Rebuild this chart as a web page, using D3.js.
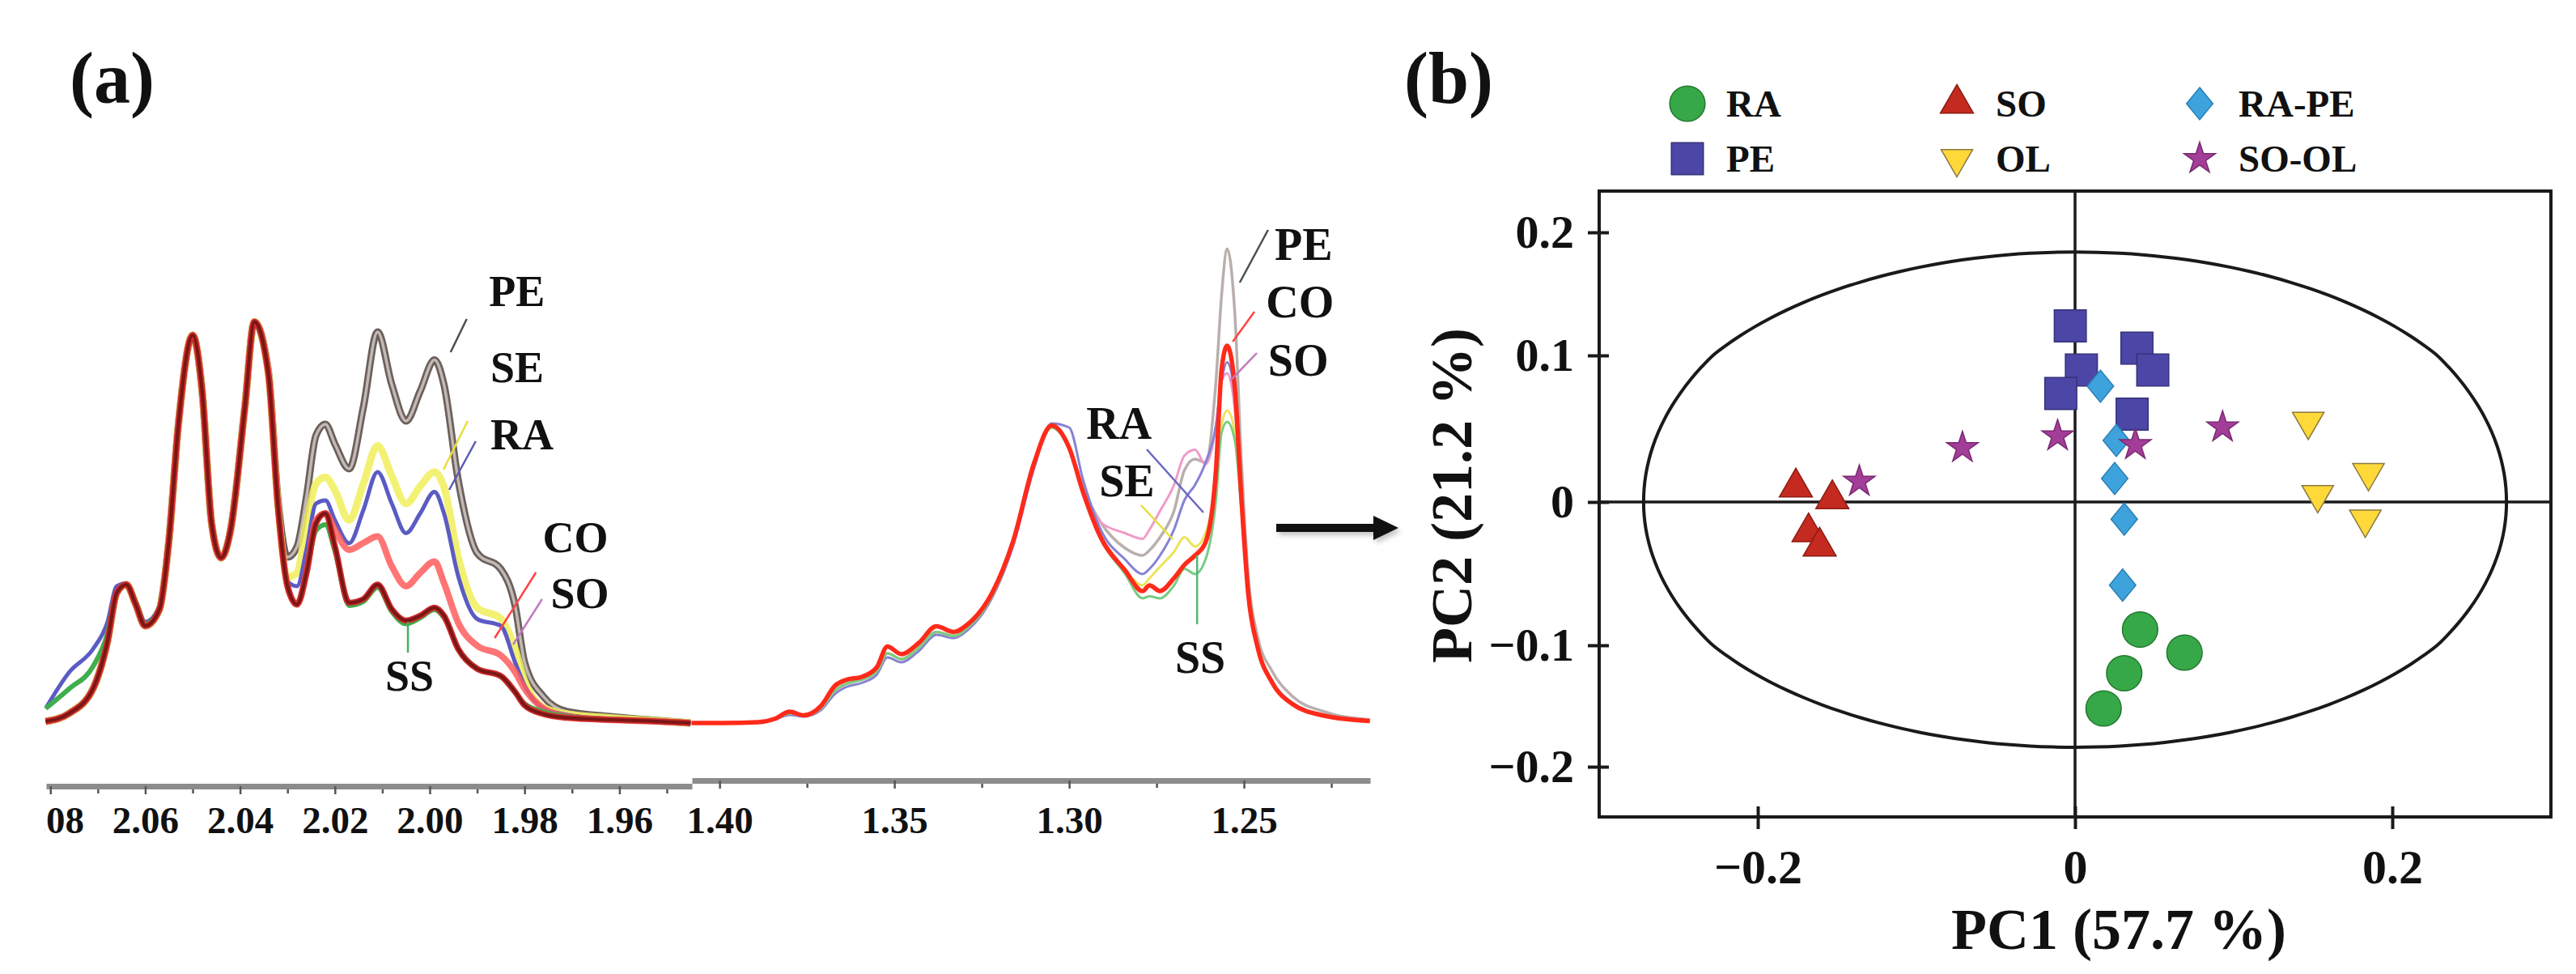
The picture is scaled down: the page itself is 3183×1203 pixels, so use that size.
<!DOCTYPE html>
<html>
<head>
<meta charset="utf-8">
<title>NMR spectra and PCA scores</title>
<script src="https://cdn.jsdelivr.net/npm/d3@7"></script>
<style>
  body { margin: 0; background: #ffffff; }
  svg { display: block; background: #ffffff; }
  text { font-family: 'Liberation Serif', 'Times New Roman', serif; font-weight: bold; fill: #111111; }
</style>
</head>
<body>
<svg></svg>
<script>
// (a) 1H NMR, window 2.08 - 1.95 ppm (relative intensity)
let ppmLeft = [2.081, 2.076, 2.071, 2.068, 2.066, 2.064, 2.062, 2.060, 2.057, 2.055, 2.053, 2.050, 2.048, 2.046, 2.044,
  2.042, 2.039, 2.037, 2.034, 2.032, 2.030, 2.028, 2.026, 2.024, 2.022, 2.020, 2.017, 2.014, 2.011, 2.008, 2.005,
  2.002, 1.999, 1.997, 1.994, 1.990, 1.985, 1.982, 1.980, 1.976, 1.971, 1.962, 1.954, 1.945]
let peLeft = [0.4, 2.4, 8.5, 19.9, 32.2, 34.2, 29.3, 24.0, 28.1, 45.2, 73.8, 95.8, 82.0, 49.3, 40.8, 47.7, 77.9, 99.1,
  86.5, 55.0, 41.0, 43.5, 55.8, 71.0, 73.8, 68.9, 62.8, 78.0, 96.6, 83.6, 74.6, 82.0, 89.7, 83.6, 60.0, 42.0, 38.0,
  29.0, 15.0, 6.5, 2.8, 1.6, 0.8, 0]
let seLeft = [0.4, 2.4, 8.5, 19.9, 32.2, 34.2, 29.3, 24.0, 28.1, 45.2, 73.8, 95.8, 82.0, 49.3, 40.8, 47.7, 77.9, 99.1,
  86.0, 53.6, 36.0, 37.1, 49.3, 59.1, 60.7, 57.5, 50.1, 59.1, 68.5, 61.0, 54.2, 58.5, 62.0, 58.3, 41.0, 28.5, 25.8,
  18.3, 10.5, 3.8, 2.2, 1.3, 0.7, 0]
let raLeft = [3.6, 12.6, 18.3, 24.8, 33.8, 34.5, 30.0, 25.0, 28.8, 45.5, 74.0, 95.5, 82.0, 49.5, 41.0, 48.0, 78.0, 99.0,
  86.0, 54.0, 35.0, 33.8, 42.8, 54.2, 55.0, 50.1, 44.4, 52.6, 62.0, 54.2, 46.9, 51.8, 57.1, 51.8, 36.3, 25.7, 24.0,
  15.0, 9.3, 3.6, 2.0, 1.0, 0.6, 0]
let coLeft = [0.4, 2.4, 8.5, 19.9, 32.2, 34.2, 29.3, 24.0, 28.1, 45.2, 73.8, 95.8, 82.0, 49.3, 40.8, 47.7, 77.9, 99.1,
  86.0, 53.4, 33.8, 29.3, 37.1, 50.1, 51.8, 47.7, 42.8, 44.5, 46.1, 38.7, 33.8, 37.1, 39.9, 34.6, 24.8, 19.1, 16.7,
  12.6, 8.5, 3.6, 1.6, 0.8, 0.5, 0]
let soLeft = [0.4, 2.4, 8.5, 19.9, 32.2, 34.2, 29.3, 24.0, 28.1, 45.2, 73.8, 95.8, 82.0, 49.3, 40.8, 47.7, 77.9, 99.1,
  86.0, 53.4, 33.8, 29.3, 37.1, 49.3, 51.8, 43.6, 29.7, 30.6, 34.2, 28.1, 25.3, 26.5, 28.5, 26.5, 18.3, 13.4, 11.6,
  7.7, 4.4, 2.2, 1.3, 0.8, 0.5, 0]
let ssLeft = [3.6, 8.5, 14.0, 22.0, 32.5, 34.0, 29.8, 24.5, 28.5, 45.5, 74.0, 95.0, 82.5, 49.8, 41.0, 48.0, 77.5, 98.5,
  86.0, 53.8, 34.0, 29.5, 37.0, 47.5, 49.0, 42.5, 29.0, 30.0, 33.5, 27.5, 24.5, 26.0, 28.0, 26.0, 18.5, 13.5, 11.5,
  7.5, 4.8, 2.8, 1.6, 0.9, 0.5, 0]

// (a) window 1.41 - 1.21 ppm
let ppmRight = [1.408, 1.399, 1.389, 1.384, 1.380, 1.376, 1.371, 1.367, 1.364, 1.359, 1.355, 1.352, 1.348, 1.343,
  1.338, 1.333, 1.329, 1.322, 1.316, 1.310, 1.305, 1.300, 1.296, 1.291, 1.284, 1.279, 1.277, 1.274, 1.270, 1.267,
  1.264, 1.261, 1.258, 1.2564, 1.2548, 1.2526, 1.2507, 1.2488, 1.246, 1.242, 1.236, 1.227, 1.214]
let peRight = [0, 0, 0.2, 1.0, 2.4, 1.8, 3.6, 8.0, 9.6, 10.8, 12.8, 17.2, 15.8, 18.6, 22.5, 21.5, 23.6, 31.5, 44.5,
  64.0, 73.0, 68.0, 57.9, 49.6, 43.2, 41.4, 42.7, 45.9, 52.4, 62.5, 65.2, 64.3, 84.5, 105.6, 117.1, 101.0, 64.3,
  36.8, 21.1, 12.9, 6.5, 2.8, 0.8]
let seRight = [0, 0, 0.2, 1.0, 2.4, 1.8, 3.6, 8.0, 9.6, 10.8, 12.8, 17.2, 15.8, 18.6, 22.5, 21.5, 23.6, 31.5, 44.5,
  64.0, 73.0, 68.0, 57.0, 45.9, 37.7, 34.0, 35.8, 38.6, 42.3, 45.9, 43.6, 46.9, 59.7, 73.5, 77.2, 71.7, 53.3,
  32.2, 18.4, 10.1, 4.6, 1.8, 0.5]
let raRight = [0, 0, 0.2, 0.9, 2.0, 1.6, 3.2, 7.2, 8.8, 10.0, 12.0, 16.2, 15.0, 17.8, 21.8, 21.0, 23.0, 31.0, 43.8,
  63.0, 74.0, 73.0, 60.0, 47.8, 40.4, 36.8, 38.1, 41.4, 47.8, 55.1, 58.8, 64.3, 73.5, 84.5, 89.1, 80.8, 55.1,
  33.0, 19.0, 10.5, 4.9, 2.0, 0.6]
let coRight = [0, 0, 0.2, 1.1, 2.8, 1.9, 4.2, 9.2, 10.6, 11.5, 13.8, 18.9, 17.0, 19.8, 23.9, 22.5, 24.4, 32.2, 45.0,
  64.3, 73.5, 68.0, 57.0, 45.9, 37.7, 32.6, 34.0, 32.6, 35.8, 39.1, 41.4, 44.6, 62.5, 87.3, 93.2, 82.7, 55.1,
  32.2, 18.4, 10.1, 4.6, 1.8, 0.5]
let soRight = [0, 0, 0.2, 1.0, 2.4, 1.8, 3.6, 8.0, 9.6, 10.8, 12.8, 17.2, 15.8, 18.6, 22.5, 21.5, 23.6, 31.5, 44.5,
  64.0, 73.0, 68.0, 57.9, 49.6, 46.9, 45.5, 47.8, 52.4, 58.8, 66.1, 67.5, 63.9, 73.5, 84.5, 86.4, 77.2, 53.3,
  32.5, 18.8, 10.5, 4.9, 2.0, 0.6]
let ssRight = [0, 0, 0.2, 1.0, 2.4, 1.8, 3.6, 8.0, 9.6, 10.8, 12.8, 17.2, 15.8, 18.6, 22.5, 21.5, 23.6, 31.5, 44.5,
  64.0, 73.0, 67.5, 56.5, 45.5, 36.8, 30.8, 31.3, 30.8, 34.0, 38.1, 36.8, 40.4, 55.1, 71.7, 74.4, 69.8, 52.4,
  32.0, 18.3, 10.0, 4.5, 1.8, 0.5]

let leftMajorTicks = [2.08, 2.06, 2.04, 2.02, 2.00, 1.98, 1.96]
let leftMinorTicks = [2.07, 2.05, 2.03, 2.01, 1.99, 1.97, 1.95]
let rightMajorTicks = [1.40, 1.35, 1.30, 1.25]
let rightMinorTicks = [1.375, 1.325, 1.275, 1.225]

// (b) PCA scores
let pcaGroups = ['RA', 'PE', 'SO', 'OL', 'RA-PE', 'SO-OL']
let raPC1 = [0.041, 0.069, 0.031, 0.018]
let raPC2 = [-0.089, -0.106, -0.123, -0.152]
let pePC1 = [-0.003, 0.039, 0.004, 0.049, -0.009, 0.036]
let pePC2 = [0.124, 0.106, 0.090, 0.090, 0.074, 0.060]
let soPC1 = [-0.176, -0.153, -0.168, -0.161]
let soPC2 = [0.010, 0.002, -0.021, -0.031]
let olPC1 = [0.147, 0.185, 0.153, 0.183]
let olPC2 = [0.055, 0.020, 0.005, -0.012]
let rapePC1 = [0.016, 0.026, 0.025, 0.031, 0.030]
let rapePC2 = [0.079, 0.042, 0.016, -0.012, -0.058]
let soolPC1 = [-0.136, -0.071, -0.011, 0.038, 0.093]
let soolPC2 = [0.014, 0.037, 0.045, 0.039, 0.051]
let pc1Ticks = [-0.2, 0, 0.2]
let pc2Ticks = [-0.2, -0.1, 0, 0.1, 0.2]
let ellipseRadii = [0.272, 0.184]

let width = 3183
let height = 1203
let svg = d3.select('svg')

let xLeft, xRight, ySpec, xPca, yPca

let symbolDiamond = {
  draw: (context, size) => {
    let h = Math.sqrt(size) * 0.6
    let w = h * 0.82
    context.moveTo(0, -h)
    context.lineTo(w, 0)
    context.lineTo(0, h)
    context.lineTo(-w, 0)
    context.closePath()
  }
}

let groupStyles = {
  'RA': { symbol: d3.symbolCircle, size: 1500, fill: '#37a847', stroke: '#22782f', rotate: 0 },
  'PE': { symbol: d3.symbolSquare, size: 1560, fill: '#4c47a6', stroke: '#35317a', rotate: 0 },
  'SO': { symbol: d3.symbolTriangle, size: 720, fill: '#c42a1f', stroke: '#8c1a12', rotate: 0 },
  'OL': { symbol: d3.symbolTriangle, size: 660, fill: '#ffd83a', stroke: '#8a7a40', rotate: 180 },
  'RA-PE': { symbol: symbolDiamond, size: 1100, fill: '#3ea3dd', stroke: '#2a7fb5', rotate: 0 },
  'SO-OL': { symbol: d3.symbolStar, size: 470, fill: '#a23d98', stroke: '#7a2a72', rotate: 0 }
}

let drawCanvas = () => {
  svg.attr('width', width).attr('height', height)
  let defs = svg.append('defs')
  defs.append('clipPath').attr('id', 'clip-a')
    .append('rect').attr('x', 55).attr('y', 0).attr('width', 1650).attr('height', height)
  defs.append('filter').attr('id', 'soft')
    .append('feGaussianBlur').attr('stdDeviation', 3)
}

let generateScales = () => {
  xLeft = d3.scaleLinear().domain([2.0809, 1.9447]).range([57, 855])
  xRight = d3.scaleLinear().domain([1.4079, 1.2139]).range([855, 1693])
  ySpec = d3.scaleLinear().domain([0, 100]).range([893, 393])

  xPca = d3.scaleLinear().domain([-0.3, 0.3]).range([1976, 3152])
  // tick spacing on the original PC2 axis is not even, so the scale is piecewise
  yPca = d3.scaleLinear()
    .domain([-0.241, -0.2, -0.1, 0, 0.1, 0.2, 0.234])
    .range([1009, 947, 797, 620, 439, 287, 236])
}

let drawSpectra = () => {
  let panel = svg.append('g').attr('clip-path', 'url(#clip-a)')

  let lineLeft = d3.line()
    .x((d, i) => xLeft(ppmLeft[i]))
    .y(d => ySpec(d))
    .curve(d3.curveMonotoneX)
  let lineRight = d3.line()
    .x((d, i) => xRight(ppmRight[i]))
    .y(d => ySpec(d))
    .curve(d3.curveMonotoneX)

  let leftLayers = [
    { values: peLeft, color: '#6b605c', width: 9, opacity: 1 },
    { values: peLeft, color: '#c2b9b5', width: 3.5, opacity: 1 },
    { values: seLeft, color: '#f1ef5a', width: 9, opacity: 0.85 },
    { values: raLeft, color: '#5b5bc4', width: 5, opacity: 1 },
    { values: coLeft, color: '#ff5c5c', width: 8, opacity: 0.85 },
    { values: ssLeft, color: '#3fae4d', width: 6, opacity: 1 },
    { values: soLeft, color: '#cf2b2b', width: 7.5, opacity: 1 },
    { values: soLeft, color: '#7a1616', width: 4, opacity: 1 }
  ]
  let rightLayers = [
    { values: peRight, color: '#b9afad', width: 3.5, opacity: 1 },
    { values: soRight, color: '#f29ac8', width: 3, opacity: 1 },
    { values: raRight, color: '#8682d4', width: 3, opacity: 1 },
    { values: seRight, color: '#eee35a', width: 3, opacity: 1 },
    { values: ssRight, color: '#7acb84', width: 3, opacity: 1 },
    { values: coRight, color: '#ff2a1a', width: 5.5, opacity: 1 }
  ]

  panel.selectAll('.spec-left')
    .data(leftLayers)
    .enter()
    .append('path')
    .attr('class', 'spec-left')
    .attr('d', d => lineLeft(d.values))
    .attr('fill', 'none')
    .attr('stroke', d => d.color)
    .attr('stroke-width', d => d.width)
    .attr('stroke-opacity', d => d.opacity)
    .attr('stroke-linejoin', 'round')

  panel.selectAll('.spec-right')
    .data(rightLayers)
    .enter()
    .append('path')
    .attr('class', 'spec-right')
    .attr('d', d => lineRight(d.values))
    .attr('fill', 'none')
    .attr('stroke', d => d.color)
    .attr('stroke-width', d => d.width)
    .attr('stroke-opacity', d => d.opacity)
    .attr('stroke-linejoin', 'round')

  let windows = [
    { scale: xLeft, major: leftMajorTicks, minor: leftMinorTicks, y: 971, pad: 15 },
    { scale: xRight, major: rightMajorTicks, minor: rightMinorTicks, y: 964, pad: 22 }
  ]
  windows.forEach(w => {
    let minorAxis = d3.axisBottom(w.scale).tickValues(w.minor).tickSize(9).tickSizeOuter(0).tickFormat('')
    let majorAxis = d3.axisBottom(w.scale).tickValues(w.major).tickSize(10).tickSizeOuter(0)
      .tickPadding(w.pad).tickFormat(d3.format('.2f'))
    let gMinor = panel.append('g').attr('transform', 'translate(0,' + w.y + ')').call(minorAxis)
    let gMajor = panel.append('g').attr('transform', 'translate(0,' + w.y + ')').call(majorAxis)
    gMinor.select('.domain').remove()
    gMajor.select('.domain').attr('stroke', '#8c8c8c').attr('stroke-width', 7)
    panel.selectAll('.tick line').attr('stroke', '#555555').attr('stroke-width', 2.5)
    gMajor.selectAll('text').attr('font-size', 47).attr('fill', '#111111')
  })
}

let drawSpectrumNotes = () => {
  let leftNotes = [
    { name: 'PE', at: [1.9875, 103.0], tick: [[1.9922, 99.8], [1.9956, 91.6]], color: '#4e4e4e' },
    { name: 'SE', at: [1.9872, 84.2], tick: [[1.9920, 74.6], [1.9971, 62.6]], color: '#e6de3a' },
    { name: 'RA', at: [1.9872, 67.6], tick: [[1.9903, 69.6], [1.9959, 57.6]], color: '#5a5ab8' },
    { name: 'CO', at: [1.9762, 42.2], tick: [[1.9776, 37.2], [1.9863, 21.0]], color: '#ff4444' },
    { name: 'SO', at: [1.9745, 28.4], tick: [[1.9763, 30.6], [1.9824, 19.4]], color: '#c078c0' },
    { name: 'SS', at: [2.0094, 8.0], tick: [[2.0046, 25.0], [2.0046, 17.4]], color: '#40b060' }
  ]
  let rightNotes = [
    { name: 'PE', at: [1.2412, 114.4], tick: [[1.2431, 121.8], [1.2512, 108.8]], color: '#4e4e4e' },
    { name: 'CO', at: [1.2437, 100.2], tick: [[1.2470, 101.6], [1.2532, 94.2]], color: '#ff4444' },
    { name: 'SO', at: [1.2431, 85.8], tick: [[1.2463, 91.4], [1.2539, 84.6]], color: '#c078c0' },
    { name: 'RA', at: [1.2951, 70.2], tick: [[1.2778, 67.6], [1.2616, 52.0]], color: '#6a66c0' },
    { name: 'SE', at: [1.2914, 56.0], tick: [[1.2794, 53.8], [1.2704, 45.4]], color: '#e6de3a' },
    { name: 'SS', at: [1.2697, 12.4], tick: [[1.2634, 41.4], [1.2634, 24.4]], color: '#50b870' }
  ]

  let g = svg.append('g')
  let addNotes = (notes, xs, fontSize) => {
    notes.forEach(n => {
      g.append('line')
        .attr('x1', xs(n.tick[0][0])).attr('y1', ySpec(n.tick[0][1]))
        .attr('x2', xs(n.tick[1][0])).attr('y2', ySpec(n.tick[1][1]))
        .attr('stroke', n.color).attr('stroke-width', 2.5)
      g.append('text')
        .attr('x', xs(n.at[0]))
        .attr('y', ySpec(n.at[1]))
        .attr('font-size', fontSize)
        .text(n.name)
    })
  }
  addNotes(leftNotes, xLeft, 54)
  addNotes(rightNotes, xRight, 56)
}

let drawPanelLabels = () => {
  svg.append('text').attr('x', 86).attr('y', 127).attr('font-size', 90).text('(a)')
  svg.append('text').attr('x', 1790).attr('y', 127).attr('font-size', 90)
    .attr('text-anchor', 'middle').text('(b)')

  // arrow from spectra to scores
  let arrow = svg.append('g')
  arrow.append('g').attr('filter', 'url(#soft)').attr('opacity', 0.45)
    .call(s => {
      s.append('line').attr('x1', 1580).attr('y1', 656).attr('x2', 1702).attr('y2', 656)
        .attr('stroke', '#777').attr('stroke-width', 10)
      s.append('path').attr('d', 'M1731,656 L1700,641 L1700,671 Z').attr('fill', '#777')
    })
  arrow.append('line').attr('x1', 1577).attr('y1', 652).attr('x2', 1700).attr('y2', 652)
    .attr('stroke', '#111').attr('stroke-width', 10)
  arrow.append('path').attr('d', 'M1728,652 L1697,637 L1697,667 Z').attr('fill', '#111')
}

let drawPca = () => {
  let g = svg.append('g')
  let left = xPca(-0.3)
  let right = xPca(0.3)
  let top = yPca(0.234)
  let bottom = yPca(-0.241)

  g.append('line').attr('x1', left).attr('x2', right).attr('y1', yPca(0)).attr('y2', yPca(0))
    .attr('stroke', '#1a1a1a').attr('stroke-width', 3.5)
  g.append('line').attr('x1', xPca(0)).attr('x2', xPca(0)).attr('y1', top).attr('y2', bottom)
    .attr('stroke', '#1a1a1a').attr('stroke-width', 3.5)

  let ellipse = d3.range(0, 360, 3).map(a => {
    let t = a * Math.PI / 180
    return [ellipseRadii[0] * Math.cos(t), ellipseRadii[1] * Math.sin(t)]
  })
  g.append('path')
    .datum(ellipse)
    .attr('d', d3.line().x(d => xPca(d[0])).y(d => yPca(d[1])).curve(d3.curveCardinalClosed))
    .attr('fill', 'none')
    .attr('stroke', '#1a1a1a')
    .attr('stroke-width', 4)

  g.append('rect')
    .attr('x', left).attr('y', top)
    .attr('width', right - left).attr('height', bottom - top)
    .attr('fill', 'none').attr('stroke', '#1a1a1a').attr('stroke-width', 4)

  let scores = {
    'RA': [raPC1, raPC2], 'PE': [pePC1, pePC2], 'SO': [soPC1, soPC2],
    'OL': [olPC1, olPC2], 'RA-PE': [rapePC1, rapePC2], 'SO-OL': [soolPC1, soolPC2]
  }
  let drawOrder = ['PE', 'RA-PE', 'SO-OL', 'RA', 'SO', 'OL']
  drawOrder.forEach(name => {
    let st = groupStyles[name]
    let pts = scores[name][0].map((v, i) => [v, scores[name][1][i]])
    g.selectAll('.pt-' + name)
      .data(pts)
      .enter()
      .append('path')
      .attr('d', d3.symbol().type(st.symbol).size(st.size))
      .attr('transform', d => 'translate(' + xPca(d[0]) + ',' + yPca(d[1]) + ') rotate(' + st.rotate + ')')
      .attr('fill', st.fill)
      .attr('stroke', st.stroke)
      .attr('stroke-width', 1.5)
  })

  let xAxis = d3.axisBottom(xPca).tickValues(pc1Ticks).tickSize(15).tickPadding(24)
    .tickFormat(d => d === 0 ? '0' : d3.format('.1f')(d))
  let yAxis = d3.axisLeft(yPca).tickValues(pc2Ticks).tickSize(14).tickPadding(17)
    .tickFormat(d => d === 0 ? '0' : d3.format('.1f')(d))

  let gx = svg.append('g').attr('transform', 'translate(0,' + bottom + ')').call(xAxis)
  gx.select('.domain').remove()
  gx.selectAll('.tick line').attr('y1', -13).attr('stroke', '#1a1a1a').attr('stroke-width', 4)
  gx.selectAll('text').attr('font-size', 60).attr('fill', '#111111')

  let gy = svg.append('g').attr('transform', 'translate(' + left + ',0)').call(yAxis)
  gy.select('.domain').remove()
  gy.selectAll('.tick line').attr('x1', 12).attr('stroke', '#1a1a1a').attr('stroke-width', 4)
  gy.selectAll('text').attr('font-size', 58).attr('fill', '#111111')

  svg.append('text')
    .attr('x', 2618).attr('y', 1172)
    .attr('text-anchor', 'middle').attr('font-size', 72)
    .text('PC1 (57.7 %)')
  svg.append('text')
    .attr('transform', 'translate(1818,612) rotate(-90)')
    .attr('text-anchor', 'middle').attr('font-size', 72)
    .text('PC2 (21.2 %)')
}

let drawLegend = () => {
  let colX = [2085, 2418, 2718]
  let rowY = [128, 196]
  let legend = svg.append('g')
  pcaGroups.forEach((name, i) => {
    let st = groupStyles[name]
    let cx = colX[Math.floor(i / 2)]
    let cy = rowY[i % 2]
    legend.append('path')
      .attr('d', d3.symbol().type(st.symbol).size(st.size)())
      .attr('transform', 'translate(' + cx + ',' + cy + ') rotate(' + st.rotate + ')')
      .attr('fill', st.fill)
      .attr('stroke', st.stroke)
      .attr('stroke-width', 1.5)
    legend.append('text')
      .attr('x', cx + 48)
      .attr('y', cy)
      .attr('dy', '0.35em')
      .attr('font-size', 47)
      .text(name)
  })
}

drawCanvas()
generateScales()
drawSpectra()
drawSpectrumNotes()
drawPanelLabels()
drawPca()
drawLegend()
</script>
</body>
</html>
